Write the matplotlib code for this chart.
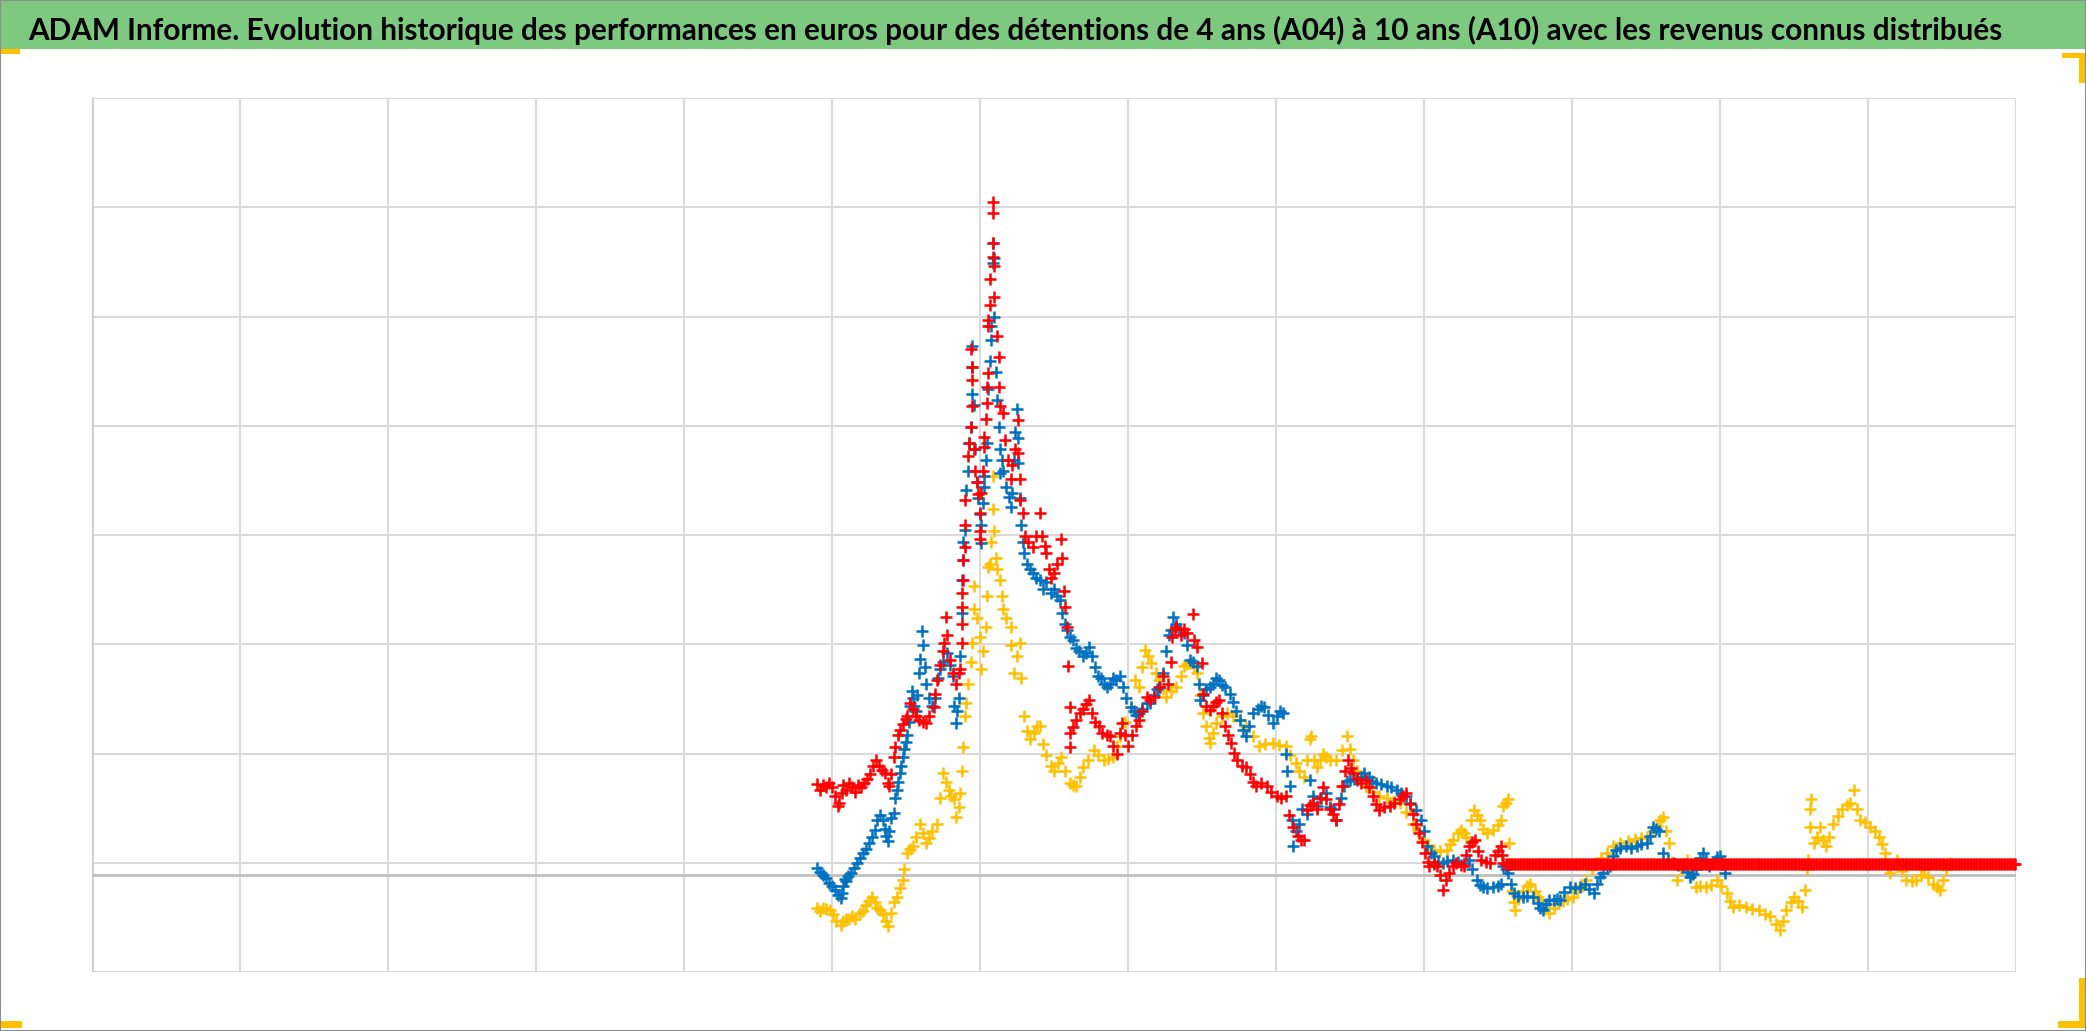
import numpy as np
import matplotlib
matplotlib.use("Agg")
import matplotlib.pyplot as plt
from matplotlib.patches import Rectangle
from matplotlib import font_manager

TITLE = ("ADAM Informe. Evolution historique des performances en euros pour des "
         "détentions de 4 ans (A04) à 10 ans (A10) avec les revenus connus distribués")

# x = time in grid periods, y = performance in grid steps (0 = break-even axis)
blue_pts = [
    (4.90, 0.06), (4.92, 0.03), (4.94, 0.00), (4.96, -0.03), (4.98, -0.07), (5.00, -0.10),
    (5.02, -0.14), (5.04, -0.18), (5.06, -0.21), (5.07, -0.17), (5.08, -0.10), (5.09, -0.04),
    (5.10, -0.06), (5.11, -0.01), (5.13, 0.02), (5.15, 0.06), (5.17, 0.11), (5.19, 0.15),
    (5.21, 0.20), (5.23, 0.24), (5.25, 0.29), (5.27, 0.35), (5.29, 0.41), (5.31, 0.50),
    (5.33, 0.55), (5.35, 0.50), (5.36, 0.42), (5.37, 0.36), (5.38, 0.31), (5.39, 0.40),
    (5.40, 0.52), (5.42, 0.57), (5.43, 0.70), (5.44, 0.78), (5.45, 0.85), (5.46, 0.93),
    (5.47, 1.00), (5.48, 1.08), (5.49, 1.15), (5.50, 1.22), (5.51, 1.28), (5.52, 1.40),
    (5.53, 1.55), (5.54, 1.68), (5.55, 1.62), (5.56, 1.55), (5.57, 1.50), (5.58, 1.65),
    (5.59, 1.85), (5.60, 1.98), (5.61, 2.23), (5.62, 2.10), (5.63, 1.90), (5.64, 1.75),
    (5.66, 1.62), (5.68, 1.55), (5.70, 1.62), (5.72, 1.80), (5.73, 1.88), (5.75, 1.95),
    (5.78, 2.03), (5.80, 1.92), (5.82, 1.82), (5.83, 1.55), (5.84, 1.39), (5.85, 1.50),
    (5.86, 1.62), (5.87, 2.00), (5.88, 2.40), (5.88, 2.70), (5.89, 2.88), (5.89, 3.05),
    (5.90, 3.16), (5.91, 3.52), (5.92, 3.70), (5.93, 3.95), (5.94, 4.10), (5.95, 4.40),
    (5.95, 4.65), (5.95, 4.84), (5.96, 4.30), (5.97, 3.90), (5.98, 3.60), (5.99, 3.45),
    (6.00, 3.30), (6.01, 3.04), (6.01, 3.20), (6.02, 3.40), (6.03, 3.55), (6.03, 3.65),
    (6.04, 3.80), (6.05, 3.95), (6.06, 4.45), (6.07, 4.70), (6.08, 4.90), (6.08, 5.02),
    (6.09, 5.60), (6.09, 5.78), (6.10, 5.65), (6.10, 5.11), (6.11, 4.60), (6.12, 4.35),
    (6.13, 4.10), (6.14, 3.90), (6.14, 3.68), (6.15, 3.80), (6.16, 3.70), (6.18, 3.55),
    (6.20, 3.46), (6.21, 3.37), (6.22, 3.50), (6.23, 3.80), (6.24, 4.05), (6.25, 4.26),
    (6.26, 4.00), (6.26, 3.77), (6.27, 3.45), (6.28, 3.20), (6.29, 3.05), (6.30, 2.95),
    (6.32, 2.85), (6.34, 2.80), (6.36, 2.76), (6.38, 2.72), (6.41, 2.70), (6.43, 2.62),
    (6.45, 2.68), (6.48, 2.58), (6.50, 2.62), (6.52, 2.55), (6.54, 2.52), (6.56, 2.40),
    (6.58, 2.30), (6.59, 2.24), (6.61, 2.18), (6.63, 2.15), (6.65, 2.08), (6.67, 2.05),
    (6.70, 2.00), (6.72, 2.03), (6.74, 2.09), (6.76, 2.00), (6.78, 1.90), (6.80, 1.82),
    (6.82, 1.80), (6.84, 1.75), (6.86, 1.72), (6.88, 1.75), (6.90, 1.80), (6.92, 1.78),
    (6.95, 1.82), (6.97, 1.72), (6.99, 1.62), (7.02, 1.54), (7.04, 1.50), (7.06, 1.46),
    (7.08, 1.48), (7.10, 1.52), (7.13, 1.57), (7.15, 1.57), (7.18, 1.65), (7.20, 1.70),
    (7.22, 1.72), (7.24, 1.85), (7.26, 2.05), (7.28, 2.20), (7.29, 2.24), (7.31, 2.36),
    (7.33, 2.30), (7.35, 2.25), (7.38, 2.21), (7.40, 2.10), (7.42, 1.97), (7.44, 1.95),
    (7.47, 1.91), (7.48, 1.75), (7.49, 1.60), (7.51, 1.65), (7.53, 1.70), (7.56, 1.72),
    (7.58, 1.75), (7.60, 1.80), (7.62, 1.78), (7.64, 1.74), (7.66, 1.72), (7.69, 1.66),
    (7.71, 1.58), (7.73, 1.50), (7.76, 1.42), (7.78, 1.33), (7.80, 1.27), (7.82, 1.36),
    (7.85, 1.48), (7.88, 1.52), (7.90, 1.55), (7.92, 1.54), (7.95, 1.46), (7.98, 1.39),
    (8.01, 1.45), (8.03, 1.50), (8.05, 1.48), (8.07, 1.11), (8.08, 0.95), (8.10, 0.81),
    (8.11, 0.50), (8.12, 0.26), (8.14, 0.40), (8.16, 0.47), (8.18, 0.60), (8.21, 0.56),
    (8.23, 0.87), (8.25, 0.72), (8.28, 0.63), (8.31, 0.70), (8.34, 0.75), (8.37, 0.62),
    (8.39, 0.60), (8.41, 0.50), (8.44, 0.70), (8.46, 0.81), (8.48, 0.86), (8.50, 0.87),
    (8.53, 0.88), (8.55, 0.87), (8.58, 0.90), (8.60, 0.93), (8.63, 0.90), (8.65, 0.86),
    (8.68, 0.84), (8.71, 0.83), (8.75, 0.81), (8.78, 0.80), (8.82, 0.78), (8.85, 0.75),
    (8.88, 0.72), (8.91, 0.66), (8.95, 0.59), (8.98, 0.50), (9.00, 0.40), (9.02, 0.26),
    (9.05, 0.20), (9.07, 0.17), (9.10, 0.12), (9.13, 0.11), (9.16, 0.13), (9.20, 0.14),
    (9.23, 0.12), (9.27, 0.11), (9.31, 0.14), (9.33, 0.05), (9.36, -0.05), (9.38, -0.09),
    (9.40, -0.11), (9.43, -0.12), (9.47, -0.11), (9.50, -0.10), (9.52, -0.08), (9.54, 0.08),
    (9.56, 0.05), (9.57, 0.02), (9.59, -0.08), (9.61, -0.17), (9.64, -0.19), (9.67, -0.20),
    (9.70, -0.19), (9.74, -0.20), (9.77, -0.26), (9.79, -0.30), (9.81, -0.32), (9.83, -0.27),
    (9.85, -0.23), (9.88, -0.23), (9.90, -0.22), (9.92, -0.23), (9.95, -0.16), (9.99, -0.11),
    (10.02, -0.12), (10.06, -0.11), (10.09, -0.08), (10.12, -0.13), (10.15, -0.17), (10.17, -0.08),
    (10.19, -0.02), (10.21, 0.02), (10.24, 0.06), (10.26, 0.08), (10.28, 0.17), (10.30, 0.23),
    (10.33, 0.25), (10.37, 0.26), (10.40, 0.25), (10.44, 0.26), (10.47, 0.28), (10.51, 0.29),
    (10.53, 0.36), (10.55, 0.44), (10.57, 0.42), (10.59, 0.40), (10.62, 0.20), (10.65, 0.14),
    (10.69, 0.11), (10.72, 0.09), (10.75, 0.08), (10.78, 0.03), (10.80, -0.02), (10.82, 0.01),
    (10.84, 0.05), (10.87, 0.15), (10.89, 0.20), (10.91, 0.14), (10.93, 0.08), (10.96, 0.12),
    (10.98, 0.16), (11.00, 0.17), (11.02, 0.10), (11.04, 0.02),
]

red_pts = [
    (4.90, 0.83), (4.92, 0.78), (4.94, 0.82), (4.96, 0.80), (4.98, 0.84), (5.00, 0.80),
    (5.02, 0.72), (5.04, 0.63), (5.05, 0.66), (5.07, 0.75), (5.08, 0.82), (5.10, 0.78),
    (5.12, 0.84), (5.14, 0.80), (5.16, 0.76), (5.18, 0.82), (5.20, 0.80), (5.22, 0.84),
    (5.24, 0.88), (5.26, 0.92), (5.28, 1.00), (5.30, 1.05), (5.32, 1.00), (5.34, 0.96),
    (5.36, 0.93), (5.38, 0.84), (5.39, 0.81), (5.40, 0.92), (5.42, 1.08), (5.43, 1.17),
    (5.45, 1.28), (5.46, 1.33), (5.48, 1.38), (5.50, 1.43), (5.51, 1.45), (5.53, 1.57),
    (5.55, 1.52), (5.57, 1.45), (5.59, 1.42), (5.62, 1.40), (5.64, 1.39), (5.66, 1.45),
    (5.69, 1.54), (5.70, 1.66), (5.71, 1.78), (5.73, 1.92), (5.75, 2.05), (5.76, 2.12),
    (5.77, 2.36), (5.78, 2.20), (5.80, 1.97), (5.82, 1.85), (5.84, 1.75), (5.86, 1.85),
    (5.87, 1.88), (5.88, 2.12), (5.88, 2.30), (5.88, 2.45), (5.88, 2.58), (5.89, 2.70),
    (5.89, 2.88), (5.90, 3.00), (5.90, 3.20), (5.90, 3.43), (5.92, 3.83), (5.93, 3.95),
    (5.94, 4.10), (5.95, 4.29), (5.95, 4.53), (5.94, 4.81), (5.95, 4.65), (5.96, 3.90),
    (5.97, 3.70), (5.98, 3.60), (5.99, 3.49), (6.00, 3.31), (6.00, 3.15), (6.00, 3.07),
    (6.01, 3.50), (6.02, 3.70), (6.03, 3.92), (6.03, 4.01), (6.04, 4.17), (6.05, 4.32),
    (6.05, 4.47), (6.06, 4.59), (6.06, 5.02), (6.06, 5.08), (6.07, 5.22), (6.07, 5.45),
    (6.09, 5.66), (6.09, 5.78), (6.09, 6.06), (6.09, 6.16), (6.10, 5.57), (6.10, 5.29),
    (6.12, 4.93), (6.13, 4.74), (6.13, 4.47), (6.14, 4.29), (6.16, 4.23), (6.17, 3.98),
    (6.19, 3.80), (6.21, 3.62), (6.22, 3.75), (6.24, 3.90), (6.26, 4.16), (6.26, 3.86),
    (6.27, 3.62), (6.27, 3.43), (6.29, 3.31), (6.31, 3.10), (6.33, 3.05), (6.36, 3.00),
    (6.38, 3.10), (6.41, 3.31), (6.42, 3.10), (6.44, 3.01), (6.45, 2.95), (6.47, 2.80),
    (6.48, 2.72), (6.50, 2.76), (6.52, 2.85), (6.55, 3.07), (6.56, 2.90), (6.57, 2.60),
    (6.58, 2.45), (6.59, 2.27), (6.60, 1.91), (6.61, 1.54), (6.61, 1.30), (6.61, 1.17),
    (6.63, 1.35), (6.65, 1.42), (6.68, 1.48), (6.70, 1.52), (6.72, 1.56), (6.74, 1.60),
    (6.76, 1.48), (6.78, 1.40), (6.81, 1.36), (6.83, 1.30), (6.86, 1.28), (6.88, 1.27),
    (6.90, 1.18), (6.93, 1.11), (6.95, 1.30), (6.96, 1.39), (6.98, 1.28), (7.00, 1.18),
    (7.03, 1.28), (7.06, 1.36), (7.08, 1.42), (7.10, 1.50), (7.13, 1.63), (7.15, 1.60),
    (7.18, 1.63), (7.21, 1.72), (7.24, 1.82), (7.27, 1.75), (7.29, 1.95), (7.30, 2.18),
    (7.32, 2.25), (7.33, 2.27), (7.36, 2.20), (7.38, 2.25), (7.40, 2.21), (7.44, 2.39),
    (7.45, 2.15), (7.47, 2.09), (7.50, 1.94), (7.51, 1.66), (7.53, 1.55), (7.56, 1.51),
    (7.58, 1.55), (7.60, 1.58), (7.62, 1.60), (7.64, 1.48), (7.66, 1.36), (7.68, 1.28),
    (7.70, 1.21), (7.72, 1.12), (7.74, 1.05), (7.77, 1.00), (7.80, 0.99), (7.83, 0.92),
    (7.85, 0.85), (7.87, 0.81), (7.90, 0.84), (7.94, 0.81), (7.97, 0.76), (8.01, 0.72),
    (8.04, 0.70), (8.07, 0.72), (8.09, 0.55), (8.12, 0.44), (8.15, 0.36), (8.17, 0.32),
    (8.19, 0.32), (8.21, 0.59), (8.23, 0.64), (8.25, 0.66), (8.28, 0.60), (8.30, 0.70),
    (8.32, 0.80), (8.34, 0.69), (8.37, 0.60), (8.39, 0.56), (8.41, 0.50), (8.43, 0.65),
    (8.45, 0.81), (8.47, 0.95), (8.49, 1.05), (8.51, 0.98), (8.52, 0.93), (8.55, 0.88),
    (8.58, 0.84), (8.61, 0.87), (8.63, 0.80), (8.66, 0.72), (8.68, 0.65), (8.70, 0.59),
    (8.73, 0.62), (8.77, 0.63), (8.80, 0.66), (8.84, 0.69), (8.86, 0.72), (8.88, 0.75),
    (8.91, 0.65), (8.93, 0.56), (8.95, 0.47), (8.97, 0.38), (8.99, 0.30), (9.01, 0.20),
    (9.03, 0.12), (9.04, 0.08), (9.07, 0.10), (9.09, 0.08), (9.11, 0.00), (9.13, -0.14),
    (9.15, -0.05), (9.17, 0.02), (9.20, 0.08), (9.22, 0.11), (9.25, 0.09), (9.27, 0.08),
    (9.29, 0.18), (9.31, 0.26), (9.33, 0.30), (9.35, 0.32), (9.37, 0.22), (9.39, 0.14),
    (9.42, 0.12), (9.45, 0.11), (9.48, 0.18), (9.50, 0.22), (9.52, 0.26), (9.53, 0.18),
    (9.54, 0.11),
]
# after 9.56 the red series stays constant until the end of the axis
red_flat_start, red_flat_end, red_flat_value = 9.56, 13.0, 0.10

yellow_pts = [
    (4.90, -0.30), (4.92, -0.33), (4.94, -0.30), (4.96, -0.31), (4.99, -0.32), (5.01, -0.36),
    (5.03, -0.42), (5.06, -0.46), (5.08, -0.42), (5.10, -0.40), (5.12, -0.40), (5.14, -0.38),
    (5.16, -0.40), (5.19, -0.35), (5.21, -0.33), (5.23, -0.28), (5.25, -0.24), (5.27, -0.20),
    (5.29, -0.25), (5.31, -0.30), (5.33, -0.32), (5.35, -0.36), (5.37, -0.42), (5.38, -0.47),
    (5.40, -0.35), (5.42, -0.25), (5.44, -0.20), (5.46, -0.12), (5.48, -0.05), (5.49, 0.05),
    (5.51, 0.20), (5.53, 0.24), (5.55, 0.26), (5.57, 0.35), (5.60, 0.47), (5.62, 0.38),
    (5.64, 0.29), (5.66, 0.34), (5.68, 0.40), (5.71, 0.47), (5.73, 0.70), (5.75, 0.93),
    (5.77, 0.85), (5.79, 0.78), (5.81, 0.72), (5.83, 0.69), (5.84, 0.53), (5.86, 0.62),
    (5.87, 0.75), (5.88, 0.95), (5.89, 1.17), (5.90, 1.45), (5.91, 1.57), (5.92, 1.75),
    (5.94, 1.95), (5.95, 2.12), (5.96, 2.43), (5.96, 2.64), (5.98, 2.35), (6.00, 2.18),
    (6.01, 1.88), (6.02, 2.05), (6.04, 2.27), (6.05, 2.55), (6.06, 2.82), (6.07, 2.85),
    (6.08, 3.05), (6.09, 3.35), (6.09, 3.65), (6.10, 3.15), (6.11, 2.90), (6.12, 2.80),
    (6.14, 2.70), (6.15, 2.55), (6.16, 2.43), (6.18, 2.35), (6.21, 2.27), (6.21, 2.10),
    (6.23, 1.85), (6.25, 2.00), (6.27, 2.12), (6.28, 1.80), (6.30, 1.45), (6.32, 1.32),
    (6.34, 1.24), (6.37, 1.30), (6.39, 1.36), (6.41, 1.36), (6.43, 1.20), (6.45, 1.10),
    (6.48, 1.00), (6.50, 0.95), (6.53, 1.02), (6.55, 1.08), (6.58, 0.95), (6.61, 0.84),
    (6.63, 0.82), (6.65, 0.81), (6.68, 0.90), (6.70, 0.99), (6.73, 1.05), (6.77, 1.14),
    (6.80, 1.10), (6.84, 1.05), (6.87, 1.06), (6.90, 1.08), (6.93, 1.18), (6.95, 1.27),
    (6.98, 1.40), (7.02, 1.54), (7.05, 1.78), (7.08, 1.72), (7.10, 1.90), (7.12, 2.06),
    (7.14, 2.00), (7.16, 1.94), (7.19, 1.85), (7.21, 1.78), (7.24, 1.70), (7.26, 1.63),
    (7.29, 1.68), (7.33, 1.72), (7.36, 1.82), (7.38, 1.91), (7.40, 1.93), (7.42, 1.94),
    (7.45, 1.90), (7.47, 1.85), (7.49, 1.65), (7.51, 1.48), (7.53, 1.36), (7.55, 1.25),
    (7.56, 1.21), (7.58, 1.30), (7.60, 1.39), (7.64, 1.45), (7.67, 1.48), (7.71, 1.45),
    (7.76, 1.42), (7.80, 1.35), (7.85, 1.27), (7.89, 1.18), (7.93, 1.20), (7.98, 1.21),
    (8.02, 1.19), (8.07, 1.18), (8.10, 1.10), (8.14, 1.02), (8.16, 0.95), (8.19, 0.90),
    (8.21, 1.05), (8.23, 1.24), (8.24, 1.27), (8.26, 1.05), (8.28, 0.99), (8.30, 1.05),
    (8.32, 1.11), (8.34, 1.08), (8.37, 1.05), (8.41, 1.05), (8.45, 1.14), (8.48, 1.27),
    (8.50, 1.15), (8.52, 1.05), (8.55, 0.95), (8.57, 0.87), (8.61, 0.81), (8.65, 0.76),
    (8.70, 0.72), (8.75, 0.70), (8.80, 0.68), (8.84, 0.66), (8.88, 0.58), (8.93, 0.47),
    (8.96, 0.40), (9.00, 0.32), (9.03, 0.27), (9.07, 0.23), (9.11, 0.22), (9.16, 0.23),
    (9.18, 0.28), (9.20, 0.32), (9.23, 0.38), (9.25, 0.41), (9.27, 0.38), (9.29, 0.35),
    (9.32, 0.50), (9.34, 0.59), (9.36, 0.55), (9.38, 0.50), (9.40, 0.42), (9.43, 0.38),
    (9.47, 0.41), (9.50, 0.46), (9.52, 0.50), (9.54, 0.63), (9.56, 0.66), (9.57, 0.69),
    (9.58, 0.29), (9.59, 0.10), (9.60, -0.15), (9.61, -0.25), (9.62, -0.32), (9.64, -0.22),
    (9.67, -0.15), (9.70, -0.10), (9.72, -0.08), (9.75, -0.15), (9.77, -0.20), (9.79, -0.23),
    (9.82, -0.30), (9.85, -0.35), (9.88, -0.30), (9.91, -0.26), (9.94, -0.24), (9.97, -0.22),
    (10.01, -0.20), (10.04, -0.14), (10.07, -0.10), (10.10, -0.05), (10.14, 0.05), (10.17, 0.10),
    (10.20, 0.15), (10.24, 0.20), (10.28, 0.26), (10.33, 0.29), (10.38, 0.31), (10.43, 0.33),
    (10.47, 0.34), (10.51, 0.35), (10.55, 0.40), (10.58, 0.45), (10.60, 0.50), (10.62, 0.53),
    (10.64, 0.40), (10.66, 0.29), (10.68, 0.12), (10.71, -0.05), (10.74, 0.05), (10.78, 0.14),
    (10.81, 0.00), (10.84, -0.11), (10.87, -0.10), (10.91, -0.11), (10.94, -0.09), (10.98, -0.05),
    (11.01, -0.10), (11.05, -0.17), (11.07, -0.24), (11.09, -0.29), (11.13, -0.28), (11.18, -0.29),
    (11.22, -0.31), (11.27, -0.32), (11.31, -0.36), (11.34, -0.38), (11.38, -0.45), (11.41, -0.50),
    (11.43, -0.42), (11.45, -0.32), (11.48, -0.25), (11.50, -0.20), (11.53, -0.24), (11.56, -0.29),
    (11.58, -0.14), (11.59, 0.05), (11.60, 0.14), (11.61, 0.44), (11.61, 0.60), (11.62, 0.69),
    (11.64, 0.29), (11.66, 0.35), (11.68, 0.44), (11.70, 0.32), (11.72, 0.26), (11.74, 0.35),
    (11.77, 0.47), (11.80, 0.54), (11.83, 0.60), (11.86, 0.64), (11.88, 0.66), (11.91, 0.78),
    (11.93, 0.60), (11.95, 0.50), (11.98, 0.48), (12.02, 0.44), (12.05, 0.40), (12.08, 0.35),
    (12.10, 0.28), (12.12, 0.20), (12.14, 0.08), (12.15, 0.02), (12.18, 0.10), (12.20, 0.14),
    (12.23, 0.04), (12.26, -0.05), (12.30, -0.06), (12.33, -0.05), (12.36, 0.00), (12.38, 0.05),
    (12.41, -0.02), (12.44, -0.08), (12.47, -0.11), (12.49, -0.14), (12.51, -0.05), (12.53, 0.05),
    (12.56, 0.11),
]

X_MIN, X_MAX = 0, 13
Y_MIN, Y_MAX = -0.889, 7.111

BLUE, RED, YELLOW = "#0070C0", "#FF0000", "#FFC000"
W, H = 2086, 1031

# narrowest bold sans available, Calibri-like title
installed = {f.name for f in font_manager.fontManager.ttflist}
title_font = next((f for f in ["Liberation Sans Narrow", "Lato", "Roboto"] if f in installed),
                  "DejaVu Sans")

fig = plt.figure(figsize=(W / 100, H / 100), dpi=100)


def px_rect(x, y, w, h, color, z=1):
    # rectangle given in pixels from the top-left corner of the figure
    fig.patches.append(Rectangle((x / W, 1 - (y + h) / H), w / W, h / H,
                                 transform=fig.transFigure, fc=color, ec="none", zorder=z))


# green title banner
px_rect(0, 0, W, 49, "#7dc97f", z=0)
title = fig.text(1015 / W, 1 - 40 / H, TITLE, ha="center", va="baseline",
                 fontsize=27, fontweight="bold", color="black", zorder=10,
                 family=[title_font, "DejaVu Sans"])

ax = fig.add_axes([91.7 / W, (H - 972) / H, (2015.5 - 91.7) / W, (972 - 98) / H])
ax.set_xlim(X_MIN, X_MAX)
ax.set_ylim(Y_MIN, Y_MAX)
ax.set_xticks(np.arange(X_MIN, X_MAX + 1))
ax.set_yticks(Y_MIN + np.arange(9))
ax.tick_params(length=0, labelbottom=False, labelleft=False)
ax.grid(True, color="#d9d9d9", lw=1.4)
ax.set_axisbelow(True)
for s in ax.spines.values():
    s.set_visible(False)
ax.axvline(X_MIN, color="#c8c8c8", lw=1.8, zorder=1)
ax.axhline(0, color="#bfbfbf", lw=2.0, zorder=1)

mk = dict(ls="none", marker="+", ms=8.5, mew=1.8, clip_on=False)
yx, yy = np.array(yellow_pts).T
bx, by = np.array(blue_pts).T
rx, ry = np.array(red_pts).T
ax.plot(yx, yy, color=YELLOW, zorder=3, **mk)
ax.plot(bx, by, color=BLUE, zorder=4, **mk)
ax.plot(rx, ry, color=RED, zorder=5, **mk)
flat_x = np.arange(red_flat_start, red_flat_end + 0.001, 0.01)
ax.plot(flat_x, np.full_like(flat_x, red_flat_value), color=RED, zorder=5, **mk)

# Excel selection handles and frame
px_rect(0, 49, 20, 5, YELLOW, z=5)
px_rect(2062, 53, 24, 5, YELLOW, z=5)
px_rect(2079, 53, 6, 30, YELLOW, z=5)
px_rect(0, 1021, 22, 7, YELLOW, z=5)
px_rect(2079, 978, 7, 50, YELLOW, z=5)
px_rect(2058, 1021, 28, 7, YELLOW, z=5)
fig.patches.append(Rectangle((0, 0), 1, 1, transform=fig.transFigure,
                             fc="none", ec="#8c8c8c", lw=1.5, zorder=6))

# fit the title to the width it has in the reference
fig.canvas.draw()
bb = title.get_window_extent()
title.set_fontsize(27 * 1973 / bb.width)

fig.savefig("out.png", dpi=100)
